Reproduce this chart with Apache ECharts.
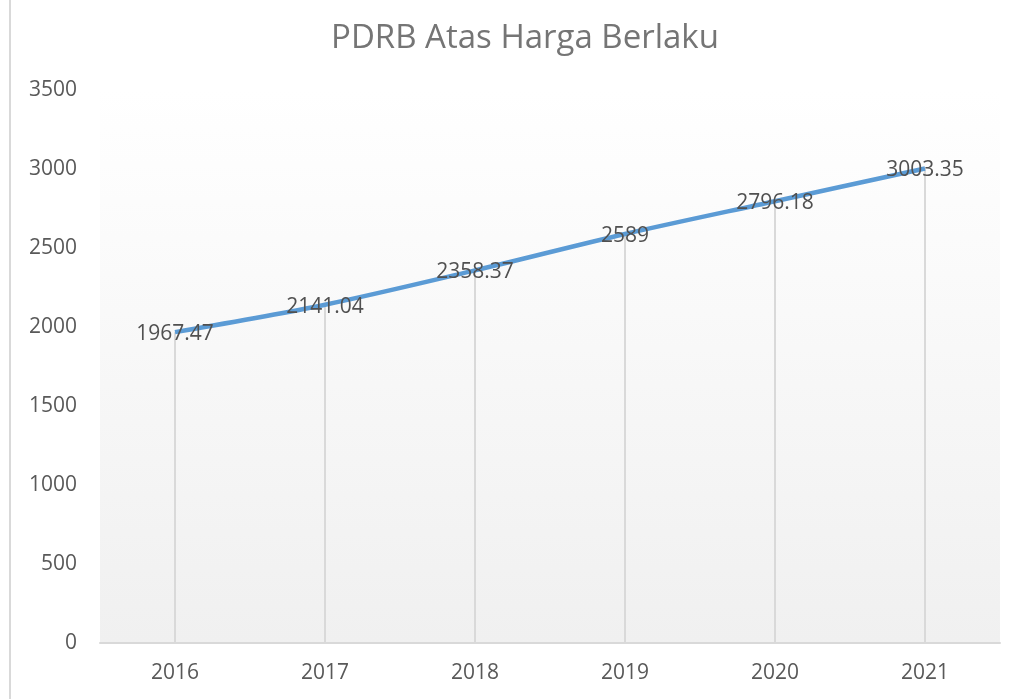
<!DOCTYPE html>
<html>
<head>
<meta charset="utf-8">
<script src="https://cdn.jsdelivr.net/npm/echarts@6/dist/echarts.min.js"></script>
<style>
  html, body { margin: 0; padding: 0; background: #fff; }
  #chart { width: 1020px; height: 699px; }
</style>
</head>
<body>
<div id="chart"></div>
<script>
// data
const years = ['2016', '2017', '2018', '2019', '2020', '2021'];
const pdrb = [1967.47, 2141.04, 2358.37, 2589, 2796.18, 3003.35];

const labelFont = "'Open Sans', 'Noto Sans', sans-serif";

const chart = echarts.init(document.getElementById('chart'));
chart.setOption({
  animation: false,
  title: {
    text: 'PDRB Atas Harga Berlaku',
    left: 520,
    textAlign: 'center',
    top: 17,
    textStyle: { fontFamily: labelFont, fontSize: 33, fontWeight: 'normal', color: '#757575' }
  },
  graphic: [{
    type: 'line',
    shape: { x1: 10, y1: 0, x2: 10, y2: 699 },
    style: { stroke: '#d9d9d9', lineWidth: 2 }
  }],
  grid: {
    left: 100, right: 20, top: 90, bottom: 56,
    show: true,
    borderWidth: 0,
    backgroundColor: new echarts.graphic.LinearGradient(0, 0, 0, 1, [
      { offset: 0, color: '#ffffff' },
      { offset: 1, color: '#f0f0f0' }
    ])
  },
  xAxis: {
    type: 'category',
    data: years,
    axisLine: { lineStyle: { color: '#d9d9d9', width: 2 } },
    axisTick: { show: false },
    axisLabel: { fontFamily: labelFont, fontSize: 21, color: '#595959', margin: 20 }
  },
  yAxis: {
    type: 'value',
    min: 0, max: 3500, interval: 500,
    axisLine: { show: false },
    axisTick: { show: false },
    splitLine: { show: false },
    axisLabel: {
      fontFamily: labelFont, fontSize: 21, color: '#595959', margin: 23,
      formatter: v => String(v)
    }
  },
  series: [
    {
      // drop lines
      type: 'bar',
      data: pdrb,
      barWidth: 2,
      itemStyle: { color: '#d9d9d9' },
      silent: true
    },
    {
      type: 'line',
      data: pdrb,
      smooth: 0.3,
      symbol: 'none',
      lineStyle: { color: '#5b9bd5', width: 4.5 },
      z: 3
    },
    {
      // data labels
      type: 'scatter',
      data: pdrb,
      symbolSize: 1,
      itemStyle: { color: 'rgba(0,0,0,0)', opacity: 1 },
      label: {
        show: true,
        position: 'inside',
        offset: [0, 2],
        fontFamily: labelFont,
        fontSize: 21,
        color: '#505050',
        textBorderWidth: 0
      },
      silent: true,
      z: 4
    }
  ]
});
</script>
</body>
</html>
